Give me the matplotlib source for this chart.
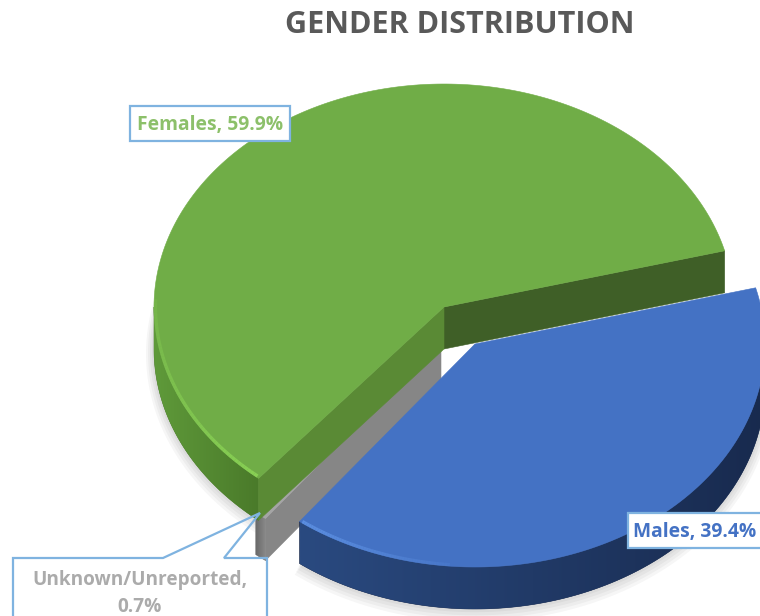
import matplotlib
matplotlib.use('Agg')
import matplotlib.pyplot as plt
from matplotlib.colors import to_rgb
from matplotlib.patches import Polygon
import numpy as np

plt.rcParams['font.family'] = ['Open Sans', 'DejaVu Sans']

labels = ['Females', 'Males', 'Unknown/Unreported']
shares = [59.9, 39.4, 0.7]
start_angle = 14.6

RX, RY, DEPTH = 290, 223, 42
GREEN_C = (444, 307)
BLUE_C = (475, 344)
GRAY_C = (441, 341)


def ring(center, a0, a1, n=120, dy=0):
    t = np.radians(np.linspace(a0, a1, n))
    return np.column_stack([center[0] + RX * np.cos(t), center[1] - RY * np.sin(t) + dy])


def top_face(ax, center, a0, a1, color, z):
    pts = np.vstack([[center], ring(center, a0, a1, 240)])
    ax.add_patch(Polygon(pts, closed=True, fc=color, ec=color, lw=0.4, zorder=z))


def cut_face(ax, center, angle, color, z):
    outer = ring(center, angle, angle, 1)[0]
    pts = [center, outer, (outer[0], outer[1] + DEPTH), (center[0], center[1] + DEPTH)]
    ax.add_patch(Polygon(pts, closed=True, fc=color, ec=color, lw=0.4, zorder=z))


def outer_wall(ax, center, a0, a1, c0, c1, z):
    # left to right gradient, clipped to the wall shape
    top = ring(center, a0, a1, 160)
    pts = np.vstack([top, top[::-1] + [0, DEPTH]])
    wall = Polygon(pts, closed=True, fc=c1, ec=c1, lw=0.4, zorder=z)
    ax.add_patch(wall)
    c0, c1 = np.array(to_rgb(c0)), np.array(to_rgb(c1))
    grad = np.linspace(0, 1, 256)[None, :, None] * (c1 - c0) + c0
    x0, x1 = pts[:, 0].min(), pts[:, 0].max()
    y0, y1 = pts[:, 1].min(), pts[:, 1].max()
    img = ax.imshow(grad, extent=(x0, x1, y1, y0), aspect='auto', zorder=z, interpolation='bilinear')
    img.set_clip_path(wall)


def soft_shadow(ax, center, a0, a1, z):
    for grow in range(8, 0, -2):
        t = np.radians(np.linspace(a0, a1, 120))
        pts = np.column_stack([center[0] + (RX + grow) * np.cos(t),
                               center[1] + DEPTH + grow * 0.6 - (RY + grow) * np.sin(t)])
        ax.add_patch(Polygon(np.vstack([[center], pts]), closed=True, fc='#000000', ec='none',
                             alpha=0.035, zorder=z))


def rim_light(ax, center, a0, a1, color, z):
    # bevel highlight, stronger towards a1
    pts = ring(center, a0, a1, 60)
    t = np.radians(np.linspace(a0, a1, 60))
    x = pts[:, 0] - 1.5 * np.cos(t)
    y = pts[:, 1] + 1.5 * np.sin(t)
    for i in range(59):
        ax.plot(x[i:i + 2], y[i:i + 2], color=color, lw=2.4, alpha=0.2 + 0.8 * i / 58, zorder=z,
                solid_capstyle='butt')


def callout(ax, x0, y0, x1, y1, text, color, size):
    ax.add_patch(Polygon([(x0, y0), (x1, y0), (x1, y1), (x0, y1)], closed=True, fc='white',
                         ec='#7fb3e0', lw=1.6, zorder=10))
    ax.text((x0 + x1) / 2, (y0 + y1) / 2 + 1.5, text, color=color, fontsize=size, fontweight='bold',
            ha='center', va='center', zorder=11)


fig = plt.figure(figsize=(7.6, 6.16), dpi=100)
ax = fig.add_axes([0, 0, 1, 1])

sweeps = [s * 3.6 for s in shares]
green_a0, green_a1 = start_angle, start_angle + sweeps[0]
gray_a0, gray_a1 = green_a1, green_a1 + sweeps[2]
blue_a1, blue_a0 = start_angle, start_angle - sweeps[1]

soft_shadow(ax, GREEN_C, 150, 232, 0)
soft_shadow(ax, BLUE_C, blue_a0, 0, 0)

# gray sliver sits behind the green one
cut_face(ax, GRAY_C, gray_a1, '#868686', 1)
outer_wall(ax, GRAY_C, gray_a0, gray_a1, '#6a6a6a', '#8a8a8a', 1)
top_face(ax, GRAY_C, gray_a0, gray_a1, '#a5a5a5', 2)

# green
outer_wall(ax, GREEN_C, 180, green_a1, '#5f9a3a', '#4a7a2a', 3)
cut_face(ax, GREEN_C, green_a0, '#3f5f27', 3)
cut_face(ax, GREEN_C, green_a1, '#5a8a35', 4)
top_face(ax, GREEN_C, green_a0, green_a1, '#70ad47', 5)
rim_light(ax, GREEN_C, 178, green_a1 - 0.5, '#88d054', 6)

# blue, pulled out to the lower right
outer_wall(ax, BLUE_C, blue_a0, 0, '#2a4a80', '#182a4e', 7)
top_face(ax, BLUE_C, blue_a0, blue_a1, '#4472c4', 8)
rim_light(ax, BLUE_C, -95, blue_a0 + 0.5, '#5b8ee0', 9)

ax.set_xlim(0, 760)
ax.set_ylim(616, 0)
ax.axis('off')

ax.text(460, 25, 'GENDER DISTRIBUTION', color='#595959', fontsize=22, fontweight='bold',
        ha='center', va='center')

callout(ax, 130, 106, 290, 141, f'{labels[0]}, {shares[0]}%', '#8cc06a', 13.9)
callout(ax, 628, 513, 762, 548, f'{labels[1]}, {shares[1]}%', '#4472c4', 13.9)

# unreported box has a wedge pointing up to the sliver
box = [(13, 618), (13, 558), (163, 558), (260, 513), (224, 558), (267, 558), (267, 618)]
ax.add_patch(Polygon(box, closed=True, fc='none', ec='#7fb3e0', lw=1.6, zorder=10))
ax.text(140, 580, f'{labels[2]},', color='#ababab', fontsize=13.7, fontweight='bold',
        ha='center', va='center', zorder=11)
ax.text(140, 607, f'{shares[2]}%', color='#ababab', fontsize=13.7, fontweight='bold',
        ha='center', va='center', zorder=11)

fig.savefig('out.png', dpi=100)
